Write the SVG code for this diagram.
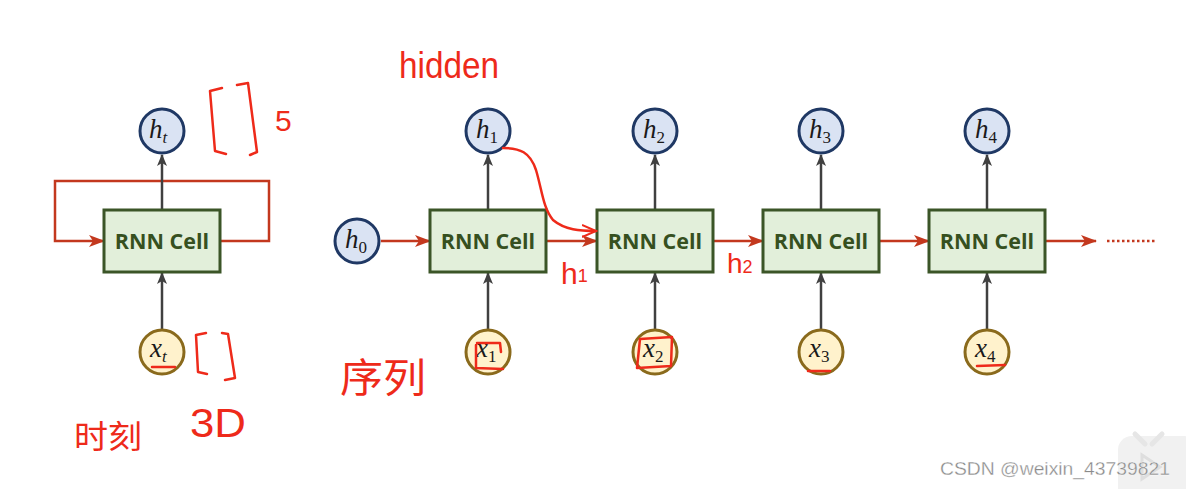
<svg xmlns="http://www.w3.org/2000/svg" width="1186" height="489" viewBox="0 0 1186 489">
<defs>
<marker id="ar" markerUnits="userSpaceOnUse" markerWidth="16" markerHeight="12" refX="15" refY="6" orient="auto">
<path d="M0,0 L16,6 L0,12 L4,6 z" fill="#c3381e"/>
</marker>
<marker id="ag" markerUnits="userSpaceOnUse" markerWidth="12" markerHeight="10" refX="11" refY="5" orient="auto">
<path d="M0,0 L12,5 L0,10 L3,5 z" fill="#404040"/>
</marker>
<marker id="ah" markerUnits="userSpaceOnUse" markerWidth="16" markerHeight="14" refX="14" refY="7" orient="auto">
<path d="M0,1 L14,7 L0,13" fill="none" stroke="#ee2a1a" stroke-width="2"/>
</marker>
</defs>
<style>
.cell{fill:#e2efda;stroke:#3b5527;stroke-width:3}
.ct{font-family:"Open Sans","DejaVu Sans",sans-serif;font-weight:bold;font-size:21.5px;fill:#36501f;text-anchor:middle}
.hc{fill:#dae3f3;stroke:#1f3864;stroke-width:3}
.xc{fill:#fff2cc;stroke:#8a6a1c;stroke-width:3}
.m{font-family:"Liberation Serif","DejaVu Serif",serif;font-style:italic;font-size:27px;fill:#1a1a1a}
.s{font-size:17px;font-style:normal}
.st{font-size:17px}
.red{stroke:#c3381e;stroke-width:2.5;fill:none}
.gry{stroke:#404040;stroke-width:2.5;fill:none}
.hw{stroke:#ee2a1a;stroke-width:2.5;fill:none;stroke-linecap:round;stroke-linejoin:round}
.ht{fill:#ee2a1a;font-family:"Liberation Sans","DejaVu Sans",sans-serif}
.hz{fill:#ee2a1a;font-family:"Noto Sans CJK SC",sans-serif}
</style>
<rect width="1186" height="489" fill="#ffffff"/>

<g id="connectors">
<path class="red" d="M220,241 H269 V181 H55 V241 H104" marker-end="url(#ar)"/>
<line class="gry" x1="162" y1="210" x2="162" y2="155" marker-end="url(#ag)"/>
<line class="gry" x1="162" y1="329" x2="162" y2="273" marker-end="url(#ag)"/>
<line class="red" x1="381" y1="241" x2="430" y2="241" marker-end="url(#ar)"/>
<line class="red" x1="546" y1="241" x2="597" y2="241" marker-end="url(#ar)"/>
<line class="red" x1="713" y1="241" x2="763" y2="241" marker-end="url(#ar)"/>
<line class="red" x1="879" y1="241" x2="929" y2="241" marker-end="url(#ar)"/>
<line class="red" x1="1045" y1="241" x2="1096" y2="241" marker-end="url(#ar)"/>
<line x1="1107" y1="241" x2="1156" y2="241" stroke="#c3381e" stroke-width="2.5" stroke-dasharray="2.5,2.5"/>
<line class="gry" x1="488" y1="210" x2="488" y2="155" marker-end="url(#ag)"/>
<line class="gry" x1="655" y1="210" x2="655" y2="155" marker-end="url(#ag)"/>
<line class="gry" x1="821" y1="210" x2="821" y2="155" marker-end="url(#ag)"/>
<line class="gry" x1="987" y1="210" x2="987" y2="155" marker-end="url(#ag)"/>
<line class="gry" x1="488" y1="329" x2="488" y2="273" marker-end="url(#ag)"/>
<line class="gry" x1="655" y1="329" x2="655" y2="273" marker-end="url(#ag)"/>
<line class="gry" x1="821" y1="329" x2="821" y2="273" marker-end="url(#ag)"/>
<line class="gry" x1="987" y1="329" x2="987" y2="273" marker-end="url(#ag)"/>
</g>

<g id="cell-loop"><rect class="cell" x="104" y="210" width="116" height="62"/><text class="ct" x="162" y="249">RNN Cell</text></g>
<g id="cell-1"><rect class="cell" x="430" y="210" width="116" height="62"/><text class="ct" x="488" y="249">RNN Cell</text></g>
<g id="cell-2"><rect class="cell" x="597" y="210" width="116" height="62"/><text class="ct" x="655" y="249">RNN Cell</text></g>
<g id="cell-3"><rect class="cell" x="763" y="210" width="116" height="62"/><text class="ct" x="821" y="249">RNN Cell</text></g>
<g id="cell-4"><rect class="cell" x="929" y="210" width="116" height="62"/><text class="ct" x="987" y="249">RNN Cell</text></g>

<g id="node-ht"><circle class="hc" cx="162" cy="131" r="22"/><text class="m" x="149" y="138">h<tspan class="st" dy="5">t</tspan></text></g>
<g id="node-xt"><circle class="xc" cx="162" cy="352" r="22"/><text class="m" x="150" y="357">x<tspan class="st" dy="5">t</tspan></text></g>
<g id="node-h0"><circle class="hc" cx="357" cy="241" r="22"/><text class="m" x="345" y="248">h<tspan class="s" dy="5">0</tspan></text></g>
<g id="node-h1"><circle class="hc" cx="488" cy="131" r="22"/><text class="m" x="476" y="138">h<tspan class="s" dy="5">1</tspan></text></g>
<g id="node-h2"><circle class="hc" cx="655" cy="131" r="22"/><text class="m" x="643" y="138">h<tspan class="s" dy="5">2</tspan></text></g>
<g id="node-h3"><circle class="hc" cx="821" cy="131" r="22"/><text class="m" x="809" y="138">h<tspan class="s" dy="5">3</tspan></text></g>
<g id="node-h4"><circle class="hc" cx="987" cy="131" r="22"/><text class="m" x="975" y="138">h<tspan class="s" dy="5">4</tspan></text></g>
<g id="node-x1"><circle class="xc" cx="488" cy="352" r="22"/><text class="m" x="476" y="357">x<tspan class="s" dy="5">1</tspan></text></g>
<g id="node-x2"><circle class="xc" cx="655" cy="352" r="22"/><text class="m" x="643" y="357">x<tspan class="s" dy="5">2</tspan></text></g>
<g id="node-x3"><circle class="xc" cx="821" cy="352" r="22"/><text class="m" x="809" y="357">x<tspan class="s" dy="5">3</tspan></text></g>
<g id="node-x4"><circle class="xc" cx="987" cy="352" r="22"/><text class="m" x="975" y="357">x<tspan class="s" dy="5">4</tspan></text></g>

<g id="annotations">
<text class="ht" x="399" y="78" font-size="36" textLength="100" lengthAdjust="spacingAndGlyphs">hidden</text>
<path class="hw" d="M222,88 L210,91 L215,151 L226,154"/>
<path class="hw" d="M237,85 L248,83 L257,152 L250,155"/>
<text class="ht" x="275" y="131" font-size="30">5</text>
<path class="hw" d="M206,333 L196,335 L198,372 L207,374"/>
<path class="hw" d="M222,333 L228,334 L235,378 L225,380"/>
<path class="hw" d="M152,367 L175,367"/>
<text class="ht" x="190" y="437" font-size="40" textLength="56" lengthAdjust="spacingAndGlyphs">3D</text>
<text class="hz" x="74" y="448" font-size="32" textLength="68" lengthAdjust="spacingAndGlyphs">时刻</text>
<text class="hz" x="340" y="392" font-size="40" textLength="86" lengthAdjust="spacingAndGlyphs">序列</text>
<path class="hw" d="M476,345 L476,368 L503,369 M477,343 L500,343 L501,352"/>
<path class="hw" d="M640,339 L672,337 L671,366 L637,368 Z"/>
<path class="hw" d="M808,371 L830,371"/>
<path class="hw" d="M977,366 L1005,365"/>
<path class="hw" d="M503,148 C520,148 530,152 536,170 C542,190 543,208 553,220 C565,230 580,231 596,231" marker-end="url(#ah)"/>
<text class="ht" x="561" y="284" font-size="30">h<tspan font-size="18" dy="-2">1</tspan></text>
<text class="ht" x="727" y="273" font-size="28">h<tspan font-size="18" dy="0">2</tspan></text>
</g>

<g id="watermark">
<rect x="1118" y="436" width="80" height="70" rx="14" fill="#f1f1f1"/>
<path d="M1135,434 L1145,444 M1162,434 L1152,444" stroke="#e6e6e6" stroke-width="5" stroke-linecap="round"/>
<path d="M1142,455 L1160,467 L1142,479 Z" fill="none" stroke="#dedede" stroke-width="3"/>
<text x="940" y="475" font-family="Liberation Sans, DejaVu Sans, sans-serif" font-size="19" fill="#8a8a8a" stroke="#ffffff" stroke-width="0.3" textLength="230" lengthAdjust="spacingAndGlyphs">CSDN @weixin_43739821</text>
</g>
</svg>
